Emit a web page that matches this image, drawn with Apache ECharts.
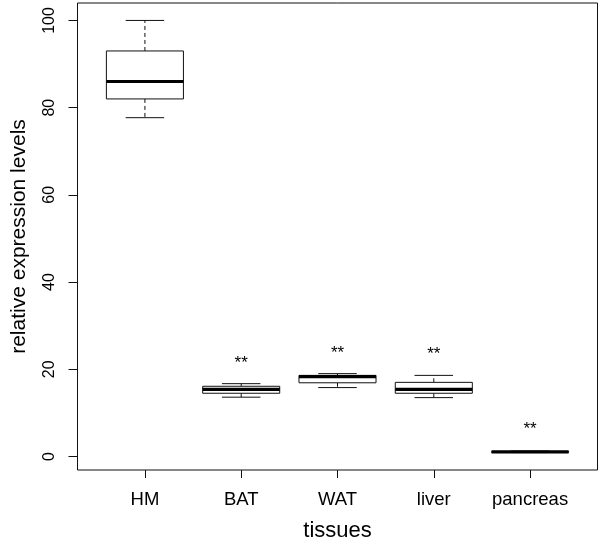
<!DOCTYPE html>
<html>
<head>
<meta charset="utf-8">
<script src="https://cdn.jsdelivr.net/npm/echarts@6/dist/echarts.min.js"></script>
<style>html,body{margin:0;padding:0;background:#fff;}#c{width:600px;height:544px;}</style>
</head>
<body>
<div id="c"></div>
<script>
// ---- data ----
var categories = ['HM', 'BAT', 'WAT', 'liver', 'pancreas'];
var whiskerLow  = [77.7, 13.6, 15.8, 13.5, 0.9];
var quartile1   = [82.0, 14.5, 16.9, 14.5, 0.95];
var medians     = [86.0, 15.4, 18.3, 15.4, 1.05];
var quartile3   = [93.0, 16.1, 18.6, 17.0, 1.15];
var whiskerHigh = [100.0, 16.7, 19.0, 18.6, 1.25];
var starLabel   = ['', '**', '**', '**', '**'];
var starY       = [null, 21.4, 23.7, 23.5, 6.3];
var yTicks      = [0, 20, 40, 60, 80, 100];

var boxData = categories.map(function (c, i) {
  return [i + 1, whiskerLow[i], quartile1[i], medians[i], quartile3[i], whiskerHigh[i]];
});
var starData = [];
categories.forEach(function (c, i) {
  if (starLabel[i]) starData.push([i + 1, starY[i], starLabel[i]]);
});

var ink = '#111';
var font = 'Liberation Sans, Arial, sans-serif';
var chart = echarts.init(document.getElementById('c'), null, {renderer: 'canvas'});
chart.setOption({
  backgroundColor: '#fff',
  animation: false,
  grid: {left: 77.5, right: 2.5, top: 3, bottom: 74, containLabel: false, outerBoundsMode: 'none',
    show: true, borderColor: ink, borderWidth: 1, backgroundColor: 'transparent'},
  xAxis: {
    type: 'value', min: 0.3, max: 5.7,
    splitLine: {show: false},
    axisLine: {show: false, onZero: false},
    axisTick: {show: true, customValues: [1, 2, 3, 4, 5], length: 8, inside: false, lineStyle: {color: ink, width: 1}},
    axisLabel: {
      customValues: [1, 2, 3, 4, 5], margin: 20,
      fontFamily: font, fontSize: 18.5, color: '#000',
      formatter: function (v) { return categories[Math.round(v) - 1] || ''; }
    },
    name: 'tissues', nameLocation: 'middle', nameGap: 50,
    nameTextStyle: {fontFamily: font, fontSize: 22, color: '#000'}
  },
  yAxis: {
    type: 'value', min: -3.1, max: 104,
    splitLine: {show: false},
    axisLine: {show: false, onZero: false},
    axisTick: {show: true, customValues: yTicks, length: 9, lineStyle: {color: ink, width: 1}},
    axisLabel: {
      customValues: yTicks, rotate: 90, margin: 20,
      fontFamily: font, fontSize: 16, color: '#000'
    },
    name: 'relative expression levels', nameLocation: 'middle', nameGap: 48, nameRotate: 90,
    nameTextStyle: {fontFamily: font, fontSize: 21, color: '#000'}
  },
  series: [
    {
      type: 'custom',
      data: boxData,
      renderItem: function (params, api) {
        var x = api.value(0);
        var lo = api.coord([x, api.value(1)]);
        var q1 = api.coord([x, api.value(2)]);
        var md = api.coord([x, api.value(3)]);
        var q3 = api.coord([x, api.value(4)]);
        var hi = api.coord([x, api.value(5)]);
        var halfW = api.size([0.8, 0])[0] / 2;
        var capW = halfW / 2;
        var cx = q1[0];
        var thin = {stroke: ink, lineWidth: 1, fill: null};
        var dash = {stroke: ink, lineWidth: 1, lineDash: [4, 3], fill: null};
        return {
          type: 'group',
          children: [
            {type: 'line', shape: {x1: cx, y1: q3[1], x2: cx, y2: hi[1]}, style: dash},
            {type: 'line', shape: {x1: cx, y1: q1[1], x2: cx, y2: lo[1]}, style: dash},
            {type: 'line', shape: {x1: cx - capW, y1: hi[1], x2: cx + capW, y2: hi[1]}, style: thin},
            {type: 'line', shape: {x1: cx - capW, y1: lo[1], x2: cx + capW, y2: lo[1]}, style: thin},
            {type: 'rect', shape: {x: cx - halfW, y: q3[1], width: 2 * halfW, height: q1[1] - q3[1]},
              style: {stroke: ink, lineWidth: 1, fill: '#fff'}},
            {type: 'line', shape: {x1: cx - halfW, y1: md[1], x2: cx + halfW, y2: md[1]},
              style: {stroke: '#000', lineWidth: 3.2}}
          ]
        };
      }
    },
    {
      type: 'custom',
      data: starData,
      renderItem: function (params, api) {
        var p = api.coord([api.value(0), api.value(1)]);
        return {
          type: 'text',
          x: p[0], y: p[1],
          style: {
            text: starData[params.dataIndex][2],
            fontFamily: font, fontSize: 17, fill: '#000',
            align: 'center', verticalAlign: 'middle'
          }
        };
      }
    }
  ]
});
</script>
</body>
</html>
